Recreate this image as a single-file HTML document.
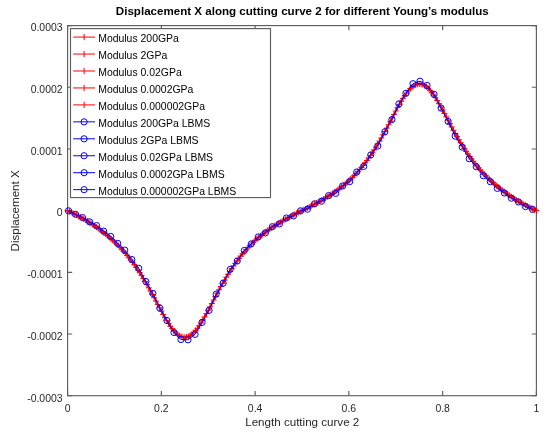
<!DOCTYPE html>
<html><head><meta charset="utf-8"><style>html,body{margin:0;padding:0;background:#fff;}svg{display:block;}text{font-family:"Liberation Sans",sans-serif;}#w{will-change:transform;}</style></head>
<body><div id="w"><svg width="550" height="434" viewBox="0 0 550 434">
<rect width="550" height="434" fill="#fff"/>
<text x="302.3" y="14.9"  font-size="11.58" font-weight="bold" text-anchor="middle" fill="#000">Displacement X along cutting curve 2 for different Young’s modulus</text>
<rect x="67.6" y="25.6" width="468.80" height="370.10" fill="none" stroke="#5e5e5e" stroke-width="1.15"/>
<path d="M67.60,395.7v-4.6M67.60,25.6v4.6M161.36,395.7v-4.6M161.36,25.6v4.6M255.12,395.7v-4.6M255.12,25.6v4.6M348.88,395.7v-4.6M348.88,25.6v4.6M442.64,395.7v-4.6M442.64,25.6v4.6M536.40,395.7v-4.6M536.40,25.6v4.6M67.6,25.60h4.6M536.4,25.60h-4.6M67.6,87.28h4.6M536.4,87.28h-4.6M67.6,148.97h4.6M536.4,148.97h-4.6M67.6,210.65h4.6M536.4,210.65h-4.6M67.6,272.33h4.6M536.4,272.33h-4.6M67.6,334.02h4.6M536.4,334.02h-4.6M67.6,395.70h4.6M536.4,395.70h-4.6" stroke="#5e5e5e" stroke-width="1.15" fill="none"/>
<path d="M67.60,210.65 L69.40,211.52 L71.21,212.39 L73.01,213.27 L74.81,214.17 L76.62,215.09 L78.42,216.03 L80.22,217.00 L82.02,218.00 L83.83,219.03 L85.63,220.09 L87.43,221.18 L89.24,222.31 L91.04,223.47 L92.84,224.67 L94.65,225.90 L96.45,227.17 L98.25,228.46 L100.06,229.80 L101.86,231.17 L103.66,232.57 L105.46,234.01 L107.27,235.50 L109.07,237.03 L110.87,238.60 L112.68,240.22 L114.48,241.90 L116.28,243.63 L118.09,245.42 L119.89,247.28 L121.69,249.20 L123.50,251.20 L125.30,253.27 L127.10,255.41 L128.90,257.63 L130.71,259.94 L132.51,262.33 L134.31,264.81 L136.12,267.37 L137.92,270.03 L139.72,272.77 L141.53,275.61 L143.33,278.54 L145.13,281.55 L146.94,284.64 L148.74,287.82 L150.54,291.06 L152.34,294.36 L154.15,297.71 L155.95,301.08 L157.75,304.47 L159.56,307.84 L161.36,311.17 L163.16,314.44 L164.97,317.62 L166.77,320.67 L168.57,323.56 L170.38,326.26 L172.18,328.72 L173.98,330.94 L175.78,332.86 L177.59,334.46 L179.39,335.73 L181.19,336.63 L183.00,337.16 L184.80,337.30 L186.60,337.05 L188.41,336.42 L190.21,335.44 L192.01,334.14 L193.82,332.49 L195.62,330.52 L197.42,328.26 L199.22,325.73 L201.03,322.97 L202.83,320.01 L204.63,316.89 L206.44,313.64 L208.24,310.29 L210.04,306.88 L211.85,303.44 L213.65,299.99 L215.45,296.56 L217.26,293.16 L219.06,289.81 L220.86,286.53 L222.66,283.32 L224.47,280.20 L226.27,277.16 L228.07,274.22 L229.88,271.36 L231.68,268.60 L233.48,265.93 L235.29,263.36 L237.09,260.87 L238.89,258.46 L240.70,256.15 L242.50,253.91 L244.30,251.76 L246.10,249.70 L247.91,247.71 L249.71,245.79 L251.51,243.96 L253.32,242.20 L255.12,240.51 L256.92,238.88 L258.73,237.32 L260.53,235.83 L262.33,234.39 L264.14,233.00 L265.94,231.66 L267.74,230.37 L269.54,229.12 L271.35,227.90 L273.15,226.72 L274.95,225.57 L276.76,224.44 L278.56,223.34 L280.36,222.26 L282.17,221.21 L283.97,220.17 L285.77,219.16 L287.58,218.16 L289.38,217.18 L291.18,216.22 L292.98,215.27 L294.79,214.33 L296.59,213.40 L298.39,212.48 L300.20,211.56 L302.00,210.65 L303.80,209.74 L305.61,208.82 L307.41,207.90 L309.21,206.97 L311.02,206.03 L312.82,205.08 L314.62,204.12 L316.42,203.14 L318.23,202.14 L320.03,201.13 L321.83,200.09 L323.64,199.04 L325.44,197.96 L327.24,196.86 L329.05,195.73 L330.85,194.58 L332.65,193.40 L334.46,192.18 L336.26,190.93 L338.06,189.64 L339.86,188.30 L341.67,186.91 L343.47,185.47 L345.27,183.98 L347.08,182.42 L348.88,180.79 L350.68,179.10 L352.49,177.34 L354.29,175.51 L356.09,173.59 L357.90,171.60 L359.70,169.54 L361.50,167.39 L363.30,165.15 L365.11,162.84 L366.91,160.43 L368.71,157.94 L370.52,155.37 L372.32,152.70 L374.12,149.94 L375.93,147.08 L377.73,144.14 L379.53,141.10 L381.34,137.98 L383.14,134.77 L384.94,131.49 L386.74,128.14 L388.55,124.74 L390.35,121.31 L392.15,117.86 L393.96,114.42 L395.76,111.01 L397.56,107.66 L399.37,104.41 L401.17,101.29 L402.97,98.33 L404.78,95.57 L406.58,93.04 L408.38,90.78 L410.18,88.81 L411.99,87.16 L413.79,85.86 L415.59,84.88 L417.40,84.25 L419.20,84.00 L421.00,84.14 L422.81,84.67 L424.61,85.57 L426.41,86.84 L428.22,88.44 L430.02,90.36 L431.82,92.58 L433.62,95.04 L435.43,97.74 L437.23,100.63 L439.03,103.68 L440.84,106.86 L442.64,110.13 L444.44,113.46 L446.25,116.83 L448.05,120.22 L449.85,123.59 L451.66,126.94 L453.46,130.24 L455.26,133.48 L457.06,136.66 L458.87,139.75 L460.67,142.76 L462.47,145.69 L464.28,148.53 L466.08,151.27 L467.88,153.93 L469.69,156.49 L471.49,158.97 L473.29,161.36 L475.10,163.67 L476.90,165.89 L478.70,168.03 L480.50,170.10 L482.31,172.10 L484.11,174.02 L485.91,175.88 L487.72,177.67 L489.52,179.40 L491.32,181.08 L493.13,182.70 L494.93,184.27 L496.73,185.80 L498.54,187.29 L500.34,188.73 L502.14,190.13 L503.94,191.50 L505.75,192.84 L507.55,194.13 L509.35,195.40 L511.16,196.63 L512.96,197.83 L514.76,198.99 L516.57,200.12 L518.37,201.21 L520.17,202.27 L521.98,203.30 L523.78,204.30 L525.58,205.27 L527.38,206.21 L529.19,207.13 L530.99,208.03 L532.79,208.91 L534.60,209.78 L536.40,210.65" fill="none" stroke="#ff0000" stroke-width="1.5"/>
<path d="M64.60,210.65h6M67.60,207.65v6M66.40,211.52h6M69.40,208.52v6M68.21,212.39h6M71.21,209.39v6M70.01,213.27h6M73.01,210.27v6M71.81,214.17h6M74.81,211.17v6M73.62,215.09h6M76.62,212.09v6M75.42,216.03h6M78.42,213.03v6M77.22,217.00h6M80.22,214.00v6M79.02,218.00h6M82.02,215.00v6M80.83,219.03h6M83.83,216.03v6M82.63,220.09h6M85.63,217.09v6M84.43,221.18h6M87.43,218.18v6M86.24,222.31h6M89.24,219.31v6M88.04,223.47h6M91.04,220.47v6M89.84,224.67h6M92.84,221.67v6M91.65,225.90h6M94.65,222.90v6M93.45,227.17h6M96.45,224.17v6M95.25,228.46h6M98.25,225.46v6M97.06,229.80h6M100.06,226.80v6M98.86,231.17h6M101.86,228.17v6M100.66,232.57h6M103.66,229.57v6M102.46,234.01h6M105.46,231.01v6M104.27,235.50h6M107.27,232.50v6M106.07,237.03h6M109.07,234.03v6M107.87,238.60h6M110.87,235.60v6M109.68,240.22h6M112.68,237.22v6M111.48,241.90h6M114.48,238.90v6M113.28,243.63h6M116.28,240.63v6M115.09,245.42h6M118.09,242.42v6M116.89,247.28h6M119.89,244.28v6M118.69,249.20h6M121.69,246.20v6M120.50,251.20h6M123.50,248.20v6M122.30,253.27h6M125.30,250.27v6M124.10,255.41h6M127.10,252.41v6M125.90,257.63h6M128.90,254.63v6M127.71,259.94h6M130.71,256.94v6M129.51,262.33h6M132.51,259.33v6M131.31,264.81h6M134.31,261.81v6M133.12,267.37h6M136.12,264.37v6M134.92,270.03h6M137.92,267.03v6M136.72,272.77h6M139.72,269.77v6M138.53,275.61h6M141.53,272.61v6M140.33,278.54h6M143.33,275.54v6M142.13,281.55h6M145.13,278.55v6M143.94,284.64h6M146.94,281.64v6M145.74,287.82h6M148.74,284.82v6M147.54,291.06h6M150.54,288.06v6M149.34,294.36h6M152.34,291.36v6M151.15,297.71h6M154.15,294.71v6M152.95,301.08h6M155.95,298.08v6M154.75,304.47h6M157.75,301.47v6M156.56,307.84h6M159.56,304.84v6M158.36,311.17h6M161.36,308.17v6M160.16,314.44h6M163.16,311.44v6M161.97,317.62h6M164.97,314.62v6M163.77,320.67h6M166.77,317.67v6M165.57,323.56h6M168.57,320.56v6M167.38,326.26h6M170.38,323.26v6M169.18,328.72h6M172.18,325.72v6M170.98,330.94h6M173.98,327.94v6M172.78,332.86h6M175.78,329.86v6M174.59,334.46h6M177.59,331.46v6M176.39,335.73h6M179.39,332.73v6M178.19,336.63h6M181.19,333.63v6M180.00,337.16h6M183.00,334.16v6M181.80,337.30h6M184.80,334.30v6M183.60,337.05h6M186.60,334.05v6M185.41,336.42h6M188.41,333.42v6M187.21,335.44h6M190.21,332.44v6M189.01,334.14h6M192.01,331.14v6M190.82,332.49h6M193.82,329.49v6M192.62,330.52h6M195.62,327.52v6M194.42,328.26h6M197.42,325.26v6M196.22,325.73h6M199.22,322.73v6M198.03,322.97h6M201.03,319.97v6M199.83,320.01h6M202.83,317.01v6M201.63,316.89h6M204.63,313.89v6M203.44,313.64h6M206.44,310.64v6M205.24,310.29h6M208.24,307.29v6M207.04,306.88h6M210.04,303.88v6M208.85,303.44h6M211.85,300.44v6M210.65,299.99h6M213.65,296.99v6M212.45,296.56h6M215.45,293.56v6M214.26,293.16h6M217.26,290.16v6M216.06,289.81h6M219.06,286.81v6M217.86,286.53h6M220.86,283.53v6M219.66,283.32h6M222.66,280.32v6M221.47,280.20h6M224.47,277.20v6M223.27,277.16h6M226.27,274.16v6M225.07,274.22h6M228.07,271.22v6M226.88,271.36h6M229.88,268.36v6M228.68,268.60h6M231.68,265.60v6M230.48,265.93h6M233.48,262.93v6M232.29,263.36h6M235.29,260.36v6M234.09,260.87h6M237.09,257.87v6M235.89,258.46h6M238.89,255.46v6M237.70,256.15h6M240.70,253.15v6M239.50,253.91h6M242.50,250.91v6M241.30,251.76h6M244.30,248.76v6M243.10,249.70h6M246.10,246.70v6M244.91,247.71h6M247.91,244.71v6M246.71,245.79h6M249.71,242.79v6M248.51,243.96h6M251.51,240.96v6M250.32,242.20h6M253.32,239.20v6M252.12,240.51h6M255.12,237.51v6M253.92,238.88h6M256.92,235.88v6M255.73,237.32h6M258.73,234.32v6M257.53,235.83h6M260.53,232.83v6M259.33,234.39h6M262.33,231.39v6M261.14,233.00h6M264.14,230.00v6M262.94,231.66h6M265.94,228.66v6M264.74,230.37h6M267.74,227.37v6M266.54,229.12h6M269.54,226.12v6M268.35,227.90h6M271.35,224.90v6M270.15,226.72h6M273.15,223.72v6M271.95,225.57h6M274.95,222.57v6M273.76,224.44h6M276.76,221.44v6M275.56,223.34h6M278.56,220.34v6M277.36,222.26h6M280.36,219.26v6M279.17,221.21h6M282.17,218.21v6M280.97,220.17h6M283.97,217.17v6M282.77,219.16h6M285.77,216.16v6M284.58,218.16h6M287.58,215.16v6M286.38,217.18h6M289.38,214.18v6M288.18,216.22h6M291.18,213.22v6M289.98,215.27h6M292.98,212.27v6M291.79,214.33h6M294.79,211.33v6M293.59,213.40h6M296.59,210.40v6M295.39,212.48h6M298.39,209.48v6M297.20,211.56h6M300.20,208.56v6M299.00,210.65h6M302.00,207.65v6M300.80,209.74h6M303.80,206.74v6M302.61,208.82h6M305.61,205.82v6M304.41,207.90h6M307.41,204.90v6M306.21,206.97h6M309.21,203.97v6M308.02,206.03h6M311.02,203.03v6M309.82,205.08h6M312.82,202.08v6M311.62,204.12h6M314.62,201.12v6M313.42,203.14h6M316.42,200.14v6M315.23,202.14h6M318.23,199.14v6M317.03,201.13h6M320.03,198.13v6M318.83,200.09h6M321.83,197.09v6M320.64,199.04h6M323.64,196.04v6M322.44,197.96h6M325.44,194.96v6M324.24,196.86h6M327.24,193.86v6M326.05,195.73h6M329.05,192.73v6M327.85,194.58h6M330.85,191.58v6M329.65,193.40h6M332.65,190.40v6M331.46,192.18h6M334.46,189.18v6M333.26,190.93h6M336.26,187.93v6M335.06,189.64h6M338.06,186.64v6M336.86,188.30h6M339.86,185.30v6M338.67,186.91h6M341.67,183.91v6M340.47,185.47h6M343.47,182.47v6M342.27,183.98h6M345.27,180.98v6M344.08,182.42h6M347.08,179.42v6M345.88,180.79h6M348.88,177.79v6M347.68,179.10h6M350.68,176.10v6M349.49,177.34h6M352.49,174.34v6M351.29,175.51h6M354.29,172.51v6M353.09,173.59h6M356.09,170.59v6M354.90,171.60h6M357.90,168.60v6M356.70,169.54h6M359.70,166.54v6M358.50,167.39h6M361.50,164.39v6M360.30,165.15h6M363.30,162.15v6M362.11,162.84h6M365.11,159.84v6M363.91,160.43h6M366.91,157.43v6M365.71,157.94h6M368.71,154.94v6M367.52,155.37h6M370.52,152.37v6M369.32,152.70h6M372.32,149.70v6M371.12,149.94h6M374.12,146.94v6M372.93,147.08h6M375.93,144.08v6M374.73,144.14h6M377.73,141.14v6M376.53,141.10h6M379.53,138.10v6M378.34,137.98h6M381.34,134.98v6M380.14,134.77h6M383.14,131.77v6M381.94,131.49h6M384.94,128.49v6M383.74,128.14h6M386.74,125.14v6M385.55,124.74h6M388.55,121.74v6M387.35,121.31h6M390.35,118.31v6M389.15,117.86h6M392.15,114.86v6M390.96,114.42h6M393.96,111.42v6M392.76,111.01h6M395.76,108.01v6M394.56,107.66h6M397.56,104.66v6M396.37,104.41h6M399.37,101.41v6M398.17,101.29h6M401.17,98.29v6M399.97,98.33h6M402.97,95.33v6M401.78,95.57h6M404.78,92.57v6M403.58,93.04h6M406.58,90.04v6M405.38,90.78h6M408.38,87.78v6M407.18,88.81h6M410.18,85.81v6M408.99,87.16h6M411.99,84.16v6M410.79,85.86h6M413.79,82.86v6M412.59,84.88h6M415.59,81.88v6M414.40,84.25h6M417.40,81.25v6M416.20,84.00h6M419.20,81.00v6M418.00,84.14h6M421.00,81.14v6M419.81,84.67h6M422.81,81.67v6M421.61,85.57h6M424.61,82.57v6M423.41,86.84h6M426.41,83.84v6M425.22,88.44h6M428.22,85.44v6M427.02,90.36h6M430.02,87.36v6M428.82,92.58h6M431.82,89.58v6M430.62,95.04h6M433.62,92.04v6M432.43,97.74h6M435.43,94.74v6M434.23,100.63h6M437.23,97.63v6M436.03,103.68h6M439.03,100.68v6M437.84,106.86h6M440.84,103.86v6M439.64,110.13h6M442.64,107.13v6M441.44,113.46h6M444.44,110.46v6M443.25,116.83h6M446.25,113.83v6M445.05,120.22h6M448.05,117.22v6M446.85,123.59h6M449.85,120.59v6M448.66,126.94h6M451.66,123.94v6M450.46,130.24h6M453.46,127.24v6M452.26,133.48h6M455.26,130.48v6M454.06,136.66h6M457.06,133.66v6M455.87,139.75h6M458.87,136.75v6M457.67,142.76h6M460.67,139.76v6M459.47,145.69h6M462.47,142.69v6M461.28,148.53h6M464.28,145.53v6M463.08,151.27h6M466.08,148.27v6M464.88,153.93h6M467.88,150.93v6M466.69,156.49h6M469.69,153.49v6M468.49,158.97h6M471.49,155.97v6M470.29,161.36h6M473.29,158.36v6M472.10,163.67h6M475.10,160.67v6M473.90,165.89h6M476.90,162.89v6M475.70,168.03h6M478.70,165.03v6M477.50,170.10h6M480.50,167.10v6M479.31,172.10h6M482.31,169.10v6M481.11,174.02h6M484.11,171.02v6M482.91,175.88h6M485.91,172.88v6M484.72,177.67h6M487.72,174.67v6M486.52,179.40h6M489.52,176.40v6M488.32,181.08h6M491.32,178.08v6M490.13,182.70h6M493.13,179.70v6M491.93,184.27h6M494.93,181.27v6M493.73,185.80h6M496.73,182.80v6M495.54,187.29h6M498.54,184.29v6M497.34,188.73h6M500.34,185.73v6M499.14,190.13h6M502.14,187.13v6M500.94,191.50h6M503.94,188.50v6M502.75,192.84h6M505.75,189.84v6M504.55,194.13h6M507.55,191.13v6M506.35,195.40h6M509.35,192.40v6M508.16,196.63h6M511.16,193.63v6M509.96,197.83h6M512.96,194.83v6M511.76,198.99h6M514.76,195.99v6M513.57,200.12h6M516.57,197.12v6M515.37,201.21h6M518.37,198.21v6M517.17,202.27h6M520.17,199.27v6M518.98,203.30h6M521.98,200.30v6M520.78,204.30h6M523.78,201.30v6M522.58,205.27h6M525.58,202.27v6M524.38,206.21h6M527.38,203.21v6M526.19,207.13h6M529.19,204.13v6M527.99,208.03h6M530.99,205.03v6M529.79,208.91h6M532.79,205.91v6M531.60,209.78h6M534.60,206.78v6M533.40,210.65h6M536.40,207.65v6" fill="none" stroke="#ff0000" stroke-width="1"/>
<path d="M68.50,210.80 L75.53,214.30 L82.56,217.60 L89.59,221.80 L96.62,225.60 L103.65,231.10 L110.68,236.40 L117.71,243.40 L124.74,250.10 L131.77,259.50 L138.80,268.40 L145.83,281.50 L152.86,293.40 L159.89,308.20 L166.92,320.50 L173.95,332.50 L180.98,339.50 L188.01,339.80 L195.04,334.40 L202.07,322.40 L209.10,310.30 L216.13,294.20 L223.16,283.20 L230.19,269.40 L237.22,261.00 L244.25,250.50 L251.28,243.90 L258.31,236.90 L265.34,232.90 L272.37,226.70 L279.40,223.90 L286.43,218.00 L293.46,215.90 L300.49,210.80 L307.52,209.20 L314.55,203.80 L321.58,201.20 L328.61,195.60 L335.64,193.40 L342.67,185.90 L349.70,181.60 L356.73,172.00 L363.76,166.40 L370.79,154.90 L377.82,146.00 L384.85,131.80 L391.88,119.60 L398.91,103.90 L405.94,93.30 L412.97,83.70 L420.00,81.20 L427.03,85.50 L434.06,94.30 L441.09,108.10 L448.12,121.40 L455.15,136.10 L462.18,147.10 L469.21,158.70 L476.24,166.70 L483.27,175.70 L490.30,181.70 L497.33,188.40 L504.36,193.00 L511.39,198.20 L518.42,201.90 L525.45,206.60 L532.48,209.40" fill="none" stroke="#0000ff" stroke-width="1"/>
<circle cx="68.50" cy="210.80" r="3.1" fill="none" stroke="#0000ff" stroke-width="1"/>
<circle cx="75.53" cy="214.30" r="3.1" fill="none" stroke="#0000ff" stroke-width="1"/>
<circle cx="82.56" cy="217.60" r="3.1" fill="none" stroke="#0000ff" stroke-width="1"/>
<circle cx="89.59" cy="221.80" r="3.1" fill="none" stroke="#0000ff" stroke-width="1"/>
<circle cx="96.62" cy="225.60" r="3.1" fill="none" stroke="#0000ff" stroke-width="1"/>
<circle cx="103.65" cy="231.10" r="3.1" fill="none" stroke="#0000ff" stroke-width="1"/>
<circle cx="110.68" cy="236.40" r="3.1" fill="none" stroke="#0000ff" stroke-width="1"/>
<circle cx="117.71" cy="243.40" r="3.1" fill="none" stroke="#0000ff" stroke-width="1"/>
<circle cx="124.74" cy="250.10" r="3.1" fill="none" stroke="#0000ff" stroke-width="1"/>
<circle cx="131.77" cy="259.50" r="3.1" fill="none" stroke="#0000ff" stroke-width="1"/>
<circle cx="138.80" cy="268.40" r="3.1" fill="none" stroke="#0000ff" stroke-width="1"/>
<circle cx="145.83" cy="281.50" r="3.1" fill="none" stroke="#0000ff" stroke-width="1"/>
<circle cx="152.86" cy="293.40" r="3.1" fill="none" stroke="#0000ff" stroke-width="1"/>
<circle cx="159.89" cy="308.20" r="3.1" fill="none" stroke="#0000ff" stroke-width="1"/>
<circle cx="166.92" cy="320.50" r="3.1" fill="none" stroke="#0000ff" stroke-width="1"/>
<circle cx="173.95" cy="332.50" r="3.1" fill="none" stroke="#0000ff" stroke-width="1"/>
<circle cx="180.98" cy="339.50" r="3.1" fill="none" stroke="#0000ff" stroke-width="1"/>
<circle cx="188.01" cy="339.80" r="3.1" fill="none" stroke="#0000ff" stroke-width="1"/>
<circle cx="195.04" cy="334.40" r="3.1" fill="none" stroke="#0000ff" stroke-width="1"/>
<circle cx="202.07" cy="322.40" r="3.1" fill="none" stroke="#0000ff" stroke-width="1"/>
<circle cx="209.10" cy="310.30" r="3.1" fill="none" stroke="#0000ff" stroke-width="1"/>
<circle cx="216.13" cy="294.20" r="3.1" fill="none" stroke="#0000ff" stroke-width="1"/>
<circle cx="223.16" cy="283.20" r="3.1" fill="none" stroke="#0000ff" stroke-width="1"/>
<circle cx="230.19" cy="269.40" r="3.1" fill="none" stroke="#0000ff" stroke-width="1"/>
<circle cx="237.22" cy="261.00" r="3.1" fill="none" stroke="#0000ff" stroke-width="1"/>
<circle cx="244.25" cy="250.50" r="3.1" fill="none" stroke="#0000ff" stroke-width="1"/>
<circle cx="251.28" cy="243.90" r="3.1" fill="none" stroke="#0000ff" stroke-width="1"/>
<circle cx="258.31" cy="236.90" r="3.1" fill="none" stroke="#0000ff" stroke-width="1"/>
<circle cx="265.34" cy="232.90" r="3.1" fill="none" stroke="#0000ff" stroke-width="1"/>
<circle cx="272.37" cy="226.70" r="3.1" fill="none" stroke="#0000ff" stroke-width="1"/>
<circle cx="279.40" cy="223.90" r="3.1" fill="none" stroke="#0000ff" stroke-width="1"/>
<circle cx="286.43" cy="218.00" r="3.1" fill="none" stroke="#0000ff" stroke-width="1"/>
<circle cx="293.46" cy="215.90" r="3.1" fill="none" stroke="#0000ff" stroke-width="1"/>
<circle cx="300.49" cy="210.80" r="3.1" fill="none" stroke="#0000ff" stroke-width="1"/>
<circle cx="307.52" cy="209.20" r="3.1" fill="none" stroke="#0000ff" stroke-width="1"/>
<circle cx="314.55" cy="203.80" r="3.1" fill="none" stroke="#0000ff" stroke-width="1"/>
<circle cx="321.58" cy="201.20" r="3.1" fill="none" stroke="#0000ff" stroke-width="1"/>
<circle cx="328.61" cy="195.60" r="3.1" fill="none" stroke="#0000ff" stroke-width="1"/>
<circle cx="335.64" cy="193.40" r="3.1" fill="none" stroke="#0000ff" stroke-width="1"/>
<circle cx="342.67" cy="185.90" r="3.1" fill="none" stroke="#0000ff" stroke-width="1"/>
<circle cx="349.70" cy="181.60" r="3.1" fill="none" stroke="#0000ff" stroke-width="1"/>
<circle cx="356.73" cy="172.00" r="3.1" fill="none" stroke="#0000ff" stroke-width="1"/>
<circle cx="363.76" cy="166.40" r="3.1" fill="none" stroke="#0000ff" stroke-width="1"/>
<circle cx="370.79" cy="154.90" r="3.1" fill="none" stroke="#0000ff" stroke-width="1"/>
<circle cx="377.82" cy="146.00" r="3.1" fill="none" stroke="#0000ff" stroke-width="1"/>
<circle cx="384.85" cy="131.80" r="3.1" fill="none" stroke="#0000ff" stroke-width="1"/>
<circle cx="391.88" cy="119.60" r="3.1" fill="none" stroke="#0000ff" stroke-width="1"/>
<circle cx="398.91" cy="103.90" r="3.1" fill="none" stroke="#0000ff" stroke-width="1"/>
<circle cx="405.94" cy="93.30" r="3.1" fill="none" stroke="#0000ff" stroke-width="1"/>
<circle cx="412.97" cy="83.70" r="3.1" fill="none" stroke="#0000ff" stroke-width="1"/>
<circle cx="420.00" cy="81.20" r="3.1" fill="none" stroke="#0000ff" stroke-width="1"/>
<circle cx="427.03" cy="85.50" r="3.1" fill="none" stroke="#0000ff" stroke-width="1"/>
<circle cx="434.06" cy="94.30" r="3.1" fill="none" stroke="#0000ff" stroke-width="1"/>
<circle cx="441.09" cy="108.10" r="3.1" fill="none" stroke="#0000ff" stroke-width="1"/>
<circle cx="448.12" cy="121.40" r="3.1" fill="none" stroke="#0000ff" stroke-width="1"/>
<circle cx="455.15" cy="136.10" r="3.1" fill="none" stroke="#0000ff" stroke-width="1"/>
<circle cx="462.18" cy="147.10" r="3.1" fill="none" stroke="#0000ff" stroke-width="1"/>
<circle cx="469.21" cy="158.70" r="3.1" fill="none" stroke="#0000ff" stroke-width="1"/>
<circle cx="476.24" cy="166.70" r="3.1" fill="none" stroke="#0000ff" stroke-width="1"/>
<circle cx="483.27" cy="175.70" r="3.1" fill="none" stroke="#0000ff" stroke-width="1"/>
<circle cx="490.30" cy="181.70" r="3.1" fill="none" stroke="#0000ff" stroke-width="1"/>
<circle cx="497.33" cy="188.40" r="3.1" fill="none" stroke="#0000ff" stroke-width="1"/>
<circle cx="504.36" cy="193.00" r="3.1" fill="none" stroke="#0000ff" stroke-width="1"/>
<circle cx="511.39" cy="198.20" r="3.1" fill="none" stroke="#0000ff" stroke-width="1"/>
<circle cx="518.42" cy="201.90" r="3.1" fill="none" stroke="#0000ff" stroke-width="1"/>
<circle cx="525.45" cy="206.60" r="3.1" fill="none" stroke="#0000ff" stroke-width="1"/>
<circle cx="532.48" cy="209.40" r="3.1" fill="none" stroke="#0000ff" stroke-width="1"/>
<text x="67.60" y="411.8"  font-size="10.45" text-anchor="middle" fill="#262626">0</text>
<text x="161.36" y="411.8"  font-size="10.45" text-anchor="middle" fill="#262626">0.2</text>
<text x="255.12" y="411.8"  font-size="10.45" text-anchor="middle" fill="#262626">0.4</text>
<text x="348.88" y="411.8"  font-size="10.45" text-anchor="middle" fill="#262626">0.6</text>
<text x="442.64" y="411.8"  font-size="10.45" text-anchor="middle" fill="#262626">0.8</text>
<text x="536.40" y="411.8"  font-size="10.45" text-anchor="middle" fill="#262626">1</text>
<text x="62.6" y="31.40"  font-size="10.45" text-anchor="end" fill="#262626">0.0003</text>
<text x="62.6" y="93.08"  font-size="10.45" text-anchor="end" fill="#262626">0.0002</text>
<text x="62.6" y="154.77"  font-size="10.45" text-anchor="end" fill="#262626">0.0001</text>
<text x="62.6" y="216.45"  font-size="10.45" text-anchor="end" fill="#262626">0</text>
<text x="62.6" y="278.13"  font-size="10.45" text-anchor="end" fill="#262626">-0.0001</text>
<text x="62.6" y="339.82"  font-size="10.45" text-anchor="end" fill="#262626">-0.0002</text>
<text x="62.6" y="401.50"  font-size="10.45" text-anchor="end" fill="#262626">-0.0003</text>
<text x="302.25" y="426.2"  font-size="11.6" text-anchor="middle" fill="#262626">Length cutting curve 2</text>
<text transform="translate(18.8,210.9) rotate(-90)" x="0" y="0"  font-size="11.6" text-anchor="middle" fill="#262626">Displacement X</text>
<rect x="70.5" y="28.6" width="200.0" height="169.0" fill="#fff" stroke="#5e5e5e" stroke-width="1.15"/>
<path d="M73.2,37.10H95" stroke="#ff0000" stroke-width="1"/>
<path d="M84.1,34.00v6.2" stroke="#ff0000" stroke-width="1"/>
<text x="98.2" y="42.30"  font-size="10.45" fill="#000">Modulus 200GPa</text>
<path d="M73.2,54.05H95" stroke="#ff0000" stroke-width="1"/>
<path d="M84.1,50.95v6.2" stroke="#ff0000" stroke-width="1"/>
<text x="98.2" y="59.25"  font-size="10.45" fill="#000">Modulus 2GPa</text>
<path d="M73.2,71.00H95" stroke="#ff0000" stroke-width="1"/>
<path d="M84.1,67.90v6.2" stroke="#ff0000" stroke-width="1"/>
<text x="98.2" y="76.20"  font-size="10.45" fill="#000">Modulus 0.02GPa</text>
<path d="M73.2,87.95H95" stroke="#ff0000" stroke-width="1"/>
<path d="M84.1,84.85v6.2" stroke="#ff0000" stroke-width="1"/>
<text x="98.2" y="93.15"  font-size="10.45" fill="#000">Modulus 0.0002GPa</text>
<path d="M73.2,104.90H95" stroke="#ff0000" stroke-width="1"/>
<path d="M84.1,101.80v6.2" stroke="#ff0000" stroke-width="1"/>
<text x="98.2" y="110.10"  font-size="10.45" fill="#000">Modulus 0.000002GPa</text>
<path d="M73.2,121.85H95" stroke="#0000ff" stroke-width="1"/>
<circle cx="84.1" cy="121.85" r="3.1" fill="none" stroke="#0000ff" stroke-width="1"/>
<text x="98.2" y="127.05"  font-size="10.45" fill="#000">Modulus 200GPa LBMS</text>
<path d="M73.2,138.80H95" stroke="#0000ff" stroke-width="1"/>
<circle cx="84.1" cy="138.80" r="3.1" fill="none" stroke="#0000ff" stroke-width="1"/>
<text x="98.2" y="144.00"  font-size="10.45" fill="#000">Modulus 2GPa LBMS</text>
<path d="M73.2,155.75H95" stroke="#0000ff" stroke-width="1"/>
<circle cx="84.1" cy="155.75" r="3.1" fill="none" stroke="#0000ff" stroke-width="1"/>
<text x="98.2" y="160.95"  font-size="10.45" fill="#000">Modulus 0.02GPa LBMS</text>
<path d="M73.2,172.70H95" stroke="#0000ff" stroke-width="1"/>
<circle cx="84.1" cy="172.70" r="3.1" fill="none" stroke="#0000ff" stroke-width="1"/>
<text x="98.2" y="177.90"  font-size="10.45" fill="#000">Modulus 0.0002GPa LBMS</text>
<path d="M73.2,189.65H95" stroke="#0000ff" stroke-width="1"/>
<circle cx="84.1" cy="189.65" r="3.1" fill="none" stroke="#0000ff" stroke-width="1"/>
<text x="98.2" y="194.85"  font-size="10.45" fill="#000">Modulus 0.000002GPa LBMS</text>
</svg></div></body></html>
